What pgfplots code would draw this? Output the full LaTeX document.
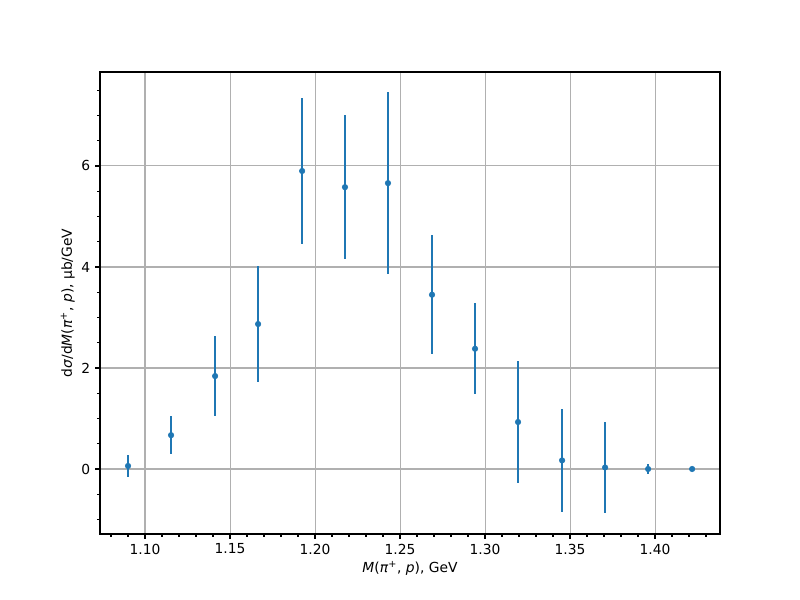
\documentclass[border=0pt]{standalone}
\usepackage{fontspec}
\setmainfont{DejaVu Sans}
\usepackage{pgfplots}
\pgfplotsset{compat=1.18}

\definecolor{mplblue}{HTML}{1F77B4}
\definecolor{mplgrid}{HTML}{B0B0B0}

\begin{document}
\fontsize{10}{12}\selectfont
\begin{tikzpicture}
\begin{axis}[
    at={(0,0)}, anchor=south west,
    scale only axis,
    width=6.2in, height=4.62in,
    xmin=1.0735, xmax=1.4382,
    ymin=-1.287, ymax=7.86,
    xtick={1.10,1.15,1.20,1.25,1.30,1.35,1.40},
    ytick={0,2,4,6},
    minor xtick={1.08,1.09,1.11,1.12,1.13,1.14,1.16,1.17,1.18,1.19,1.21,1.22,1.23,1.24,1.26,1.27,1.28,1.29,1.31,1.32,1.33,1.34,1.36,1.37,1.38,1.39,1.41,1.42,1.43},
    minor ytick={-1,-0.5,0.5,1,1.5,2.5,3,3.5,4.5,5,5.5,6.5,7,7.5},
    xtick pos=bottom, ytick pos=left,
    tick align=outside,
    major tick length=3.5pt, minor tick length=2pt,
    tick style={black, line width=0.9pt},
    axis line style={line width=0.8pt},
    xmajorgrids, ymajorgrids,
    major grid style={mplgrid, line width=0.8pt},
    minor grid style={draw=none},
    xticklabel style={/pgf/number format/.cd, fixed, fixed zerofill, precision=2},
    yticklabel style={/pgf/number format/fixed},
    /pgf/number format/assume math mode=true,
    xlabel={\textit{M}(\textit{π}\textsuperscript{+}, \textit{p}), GeV},
    ylabel={d\textit{σ}/d\textit{M}(\textit{π}\textsuperscript{+}, \textit{p}), μb/GeV},
    xlabel style={yshift=2pt},
    ylabel style={yshift=-2pt},
]
\addplot[only marks, mark=*, mark size=2pt, color=mplblue,
    error bars/.cd, y dir=both, y explicit, error mark=none,
    error bar style={line width=1.5pt, mplblue}]
    table[x=x, y=y, y error=e] {
    x       y     e
    1.0900  0.06  0.21
    1.1153  0.67  0.38
    1.1412  1.84  0.79
    1.1665  2.87  1.15
    1.1924  5.90  1.45
    1.2176  5.58  1.43
    1.2429  5.66  1.80
    1.2688  3.45  1.18
    1.2941  2.38  0.90
    1.3194  0.93  1.20
    1.3453  0.17  1.02
    1.3706  0.03  0.91
    1.3959  0.00  0.10
    1.4218  0.00  0.00
};
\end{axis}
\path[use as bounding box] (-1in,-0.66in) rectangle (7in,5.34in);
\end{tikzpicture}
\end{document}
